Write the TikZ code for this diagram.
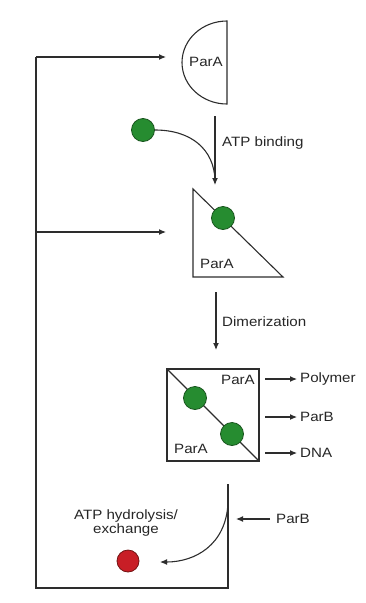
\documentclass[tikz,border=0pt]{standalone}
\usepackage{fontspec}
\setmainfont[FakeStretch=1.12]{Liberation Sans}
\usetikzlibrary{arrows.meta}
\definecolor{lineC}{RGB}{45,45,45}
\definecolor{gfill}{RGB}{38,140,48}
\definecolor{gdraw}{RGB}{25,85,30}
\definecolor{rfill}{RGB}{200,30,38}
\definecolor{rdraw}{RGB}{115,20,20}
\tikzset{
  ln/.style={draw=lineC, line width=1.1pt},
  arr/.style={ln, -{Latex[length=7pt,width=6pt]}},
  lbl/.style={font=\fontsize{13.5pt}{14pt}\selectfont, text=black!85, inner sep=0pt},
  gball/.style={circle, fill=gfill, draw=gdraw, line width=0.8pt, minimum size=23pt, inner sep=0pt},
  rball/.style={circle, fill=rfill, draw=rdraw, line width=0.8pt, minimum size=23pt, inner sep=0pt},
}
\begin{document}
\begin{tikzpicture}[x=1pt,y=1pt]
\useasboundingbox (0,0) rectangle (366,-603);
% half disc ParA
\draw[ln] (227,-21) arc[start angle=90,end angle=270,x radius=45pt,y radius=41.5pt] -- cycle;
\node[lbl] (hd) at (206,-62) {ParA};
% ATP binding step
\coordinate (a1s) at (215,-116);
\coordinate (a1e) at (215,-185);
\draw[arr] (a1s) -- (a1e);
\node[lbl, anchor=west] (atpb) at (222,-143) {ATP binding};
\node[gball] (g1) at (143,-130) {};
\draw[ln] (g1.east) .. controls (192,-130) and (214,-150) .. (215,-180);
% triangle ParA
\coordinate (t1) at (193,-189);
\coordinate (t2) at (193,-277);
\coordinate (t3) at (283,-277);
\draw[ln] (t1) -- (t2) -- (t3) -- cycle;
\node[gball] (g2) at (223,-218) {};
\node[lbl] (tp) at (217,-264) {ParA};
% Dimerization
\coordinate (a2s) at (216,-292);
\coordinate (a2e) at (216,-350);
\draw[arr] (a2s) -- (a2e);
\node[lbl, anchor=west] (dim) at (222,-322) {Dimerization};
% square dimer
\coordinate (s1) at (167,-369);
\coordinate (s2) at (259,-461);
\draw[ln] (s1) rectangle (s2);
\draw[ln] (s1) -- (s2);
\node[gball] (g3) at (195,-398) {};
\node[gball] (g4) at (232,-434) {};
\node[lbl] (sp1) at (238,-380) {ParA};
\node[lbl] (sp2) at (191,-449) {ParA};
% outputs
\node[lbl, anchor=west] (poly) at (300,-379) {Polymer};
\node[lbl, anchor=west] (parb1) at (300,-417) {ParB};
\node[lbl, anchor=west] (dna) at (300,-453) {DNA};
\coordinate (o1) at (265,-379);
\coordinate (o2) at (265,-417);
\coordinate (o3) at (265,-453);
\draw[arr] (o1) -- ([xshift=-3pt]poly.west);
\draw[arr] (o2) -- ([xshift=-3pt]parb1.west);
\draw[arr] (o3) -- ([xshift=-3pt]dna.west);
% hydrolysis loop
\coordinate (h0) at (228,-484);
\coordinate (h1) at (228,-588);
\coordinate (h2) at (36,-588);
\coordinate (h3) at (36,-57);
\coordinate (h4) at (166,-57);
\coordinate (h5) at (36,-232);
\coordinate (h6) at (166,-232);
\draw[ln] (h0) -- (h1) -- (h2) -- (h3);
\draw[arr] (h3) -- (h4);
\draw[arr] (h5) -- (h6);
\node[lbl, anchor=west] (parb2) at (276,-519) {ParB};
\coordinate (pbs) at (270,-519);
\coordinate (pb) at (236,-519);
\draw[arr] (pbs) -- (pb);
\node[rball, minimum size=22pt] (r1) at (128,-561) {};
\coordinate (hc) at (228,-503);
\coordinate (ht) at (160,-562);
\draw[arr] (hc) .. controls (226,-545) and (195,-562) .. (ht);
\node[lbl, align=center] (hyd) at (126,-523) {ATP hydrolysis/\\exchange};
\end{tikzpicture}
\end{document}
